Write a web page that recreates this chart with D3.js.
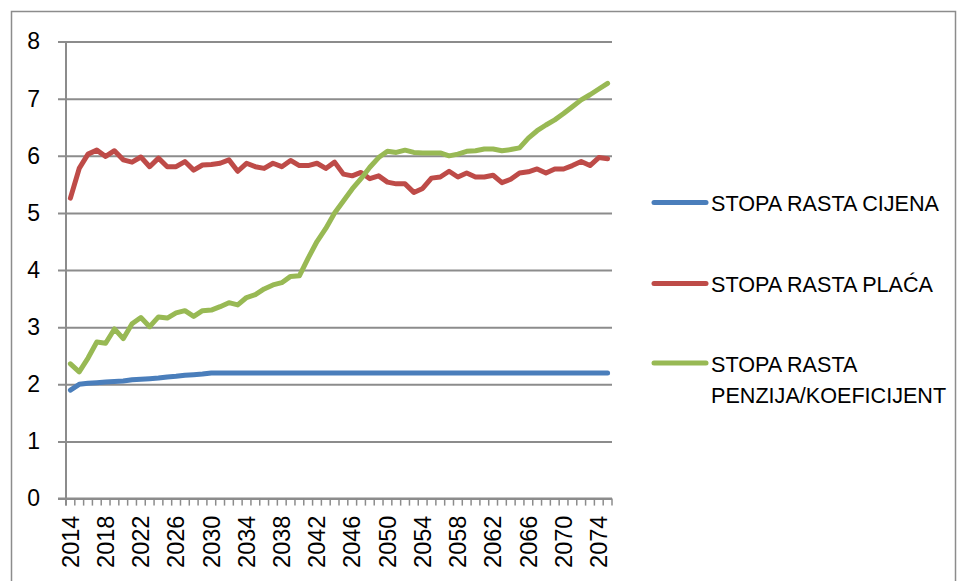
<!DOCTYPE html>
<html>
<head>
<meta charset="utf-8">
<script src="https://cdn.jsdelivr.net/npm/d3@7"></script>
<style>
  html, body { margin: 0; padding: 0; background: #fff; }
  svg { display: block; }
  text { font-family: "Liberation Sans", Arial, sans-serif; fill: #000; }
</style>
</head>
<body>
<svg id="chart" width="958" height="581"></svg>
<script>
// ---- data ----
const years = d3.range(2014, 2076);
const tickYears = [2014, 2018, 2022, 2026, 2030, 2034, 2038, 2042, 2046, 2050, 2054, 2058, 2062, 2066, 2070, 2074];
const yTicks = [0, 1, 2, 3, 4, 5, 6, 7, 8];
const seriesNames = ["STOPA RASTA CIJENA", "STOPA RASTA PLAĆA", "STOPA RASTA PENZIJA/KOEFICIJENT"];
const prices = [1.90, 2.00, 2.02, 2.03, 2.04, 2.05, 2.06, 2.08, 2.09, 2.10, 2.11, 2.13, 2.14, 2.16, 2.17, 2.18,
  2.20, 2.20, 2.20, 2.20, 2.20, 2.20, 2.20, 2.20, 2.20, 2.20, 2.20, 2.20, 2.20, 2.20, 2.20, 2.20,
  2.20, 2.20, 2.20, 2.20, 2.20, 2.20, 2.20, 2.20, 2.20, 2.20, 2.20, 2.20, 2.20, 2.20, 2.20, 2.20,
  2.20, 2.20, 2.20, 2.20, 2.20, 2.20, 2.20, 2.20, 2.20, 2.20, 2.20, 2.20, 2.20, 2.20];
const wages = [5.26, 5.78, 6.03, 6.10, 5.99, 6.09, 5.93, 5.89, 5.98, 5.81, 5.96, 5.81, 5.81, 5.90, 5.75, 5.84,
  5.85, 5.87, 5.93, 5.73, 5.87, 5.81, 5.78, 5.87, 5.81, 5.92, 5.83, 5.83, 5.87, 5.78, 5.89, 5.68,
  5.65, 5.71, 5.60, 5.65, 5.54, 5.51, 5.51, 5.36, 5.43, 5.61, 5.63, 5.73, 5.63, 5.70, 5.63, 5.63,
  5.66, 5.53, 5.59, 5.70, 5.72, 5.77, 5.70, 5.77, 5.77, 5.83, 5.90, 5.83, 5.97, 5.95];
const pensions = [2.36, 2.22, 2.46, 2.74, 2.72, 2.97, 2.80, 3.06, 3.17, 3.01, 3.18, 3.16, 3.25, 3.29, 3.19, 3.29,
  3.30, 3.36, 3.43, 3.39, 3.52, 3.57, 3.67, 3.74, 3.78, 3.89, 3.90, 4.21, 4.50, 4.73, 5.00, 5.21,
  5.42, 5.60, 5.80, 5.97, 6.08, 6.06, 6.10, 6.06, 6.05, 6.05, 6.05, 6.00, 6.03, 6.08, 6.09, 6.12,
  6.12, 6.09, 6.11, 6.14, 6.31, 6.44, 6.54, 6.63, 6.74, 6.86, 6.98, 7.07, 7.17, 7.27];
const colors = ["#4A7EBB", "#BE4B48", "#98B954"];

// ---- layout ----
const svg = d3.select("#chart");
const plot = { left: 66, right: 612, top: 41.6, bottom: 498.6 };

svg.append("rect")
  .attr("x", 11.5).attr("y", 11.5).attr("width", 944).attr("height", 620)
  .attr("fill", "none").attr("stroke", "#8c8c8c").attr("stroke-width", 1.5);

const x = d3.scaleBand().domain(years).range([plot.left, plot.right]).padding(0);
const cx = d => x(d) + x.bandwidth() / 2;
const y = d3.scaleLinear().domain([0, 8]).range([plot.bottom, plot.top]);

// gridlines + y labels
const yAxis = d3.axisLeft(y).tickValues(yTicks).tickSize(plot.right - plot.left + 8).tickPadding(18).tickFormat(d3.format("d"));
const gy = svg.append("g").attr("transform", `translate(${plot.right},0)`).call(yAxis);
gy.select(".domain").remove();
gy.selectAll(".tick line").attr("stroke", "#8c8c8c").attr("stroke-width", 2);
gy.selectAll(".tick text").attr("font-size", 23).attr("font-family", "Liberation Sans, Arial, sans-serif").attr("fill", "#000");

// y axis line
svg.append("line").attr("x1", plot.left).attr("x2", plot.left)
  .attr("y1", plot.top).attr("y2", plot.bottom + 7)
  .attr("stroke", "#8c8c8c").attr("stroke-width", 2);

// x axis line and ticks (at category boundaries)
svg.append("line").attr("x1", plot.left - 8).attr("x2", plot.right)
  .attr("y1", plot.bottom).attr("y2", plot.bottom)
  .attr("stroke", "#8c8c8c").attr("stroke-width", 2);
const bounds = years.map(d => x(d)).concat([plot.right]);
svg.append("g").selectAll("line").data(bounds).join("line")
  .attr("x1", d => d).attr("x2", d => d)
  .attr("y1", plot.bottom).attr("y2", plot.bottom + 7)
  .attr("stroke", "#8c8c8c").attr("stroke-width", 1.5);

// x labels
svg.append("g").selectAll("text").data(tickYears).join("text")
  .attr("transform", d => `translate(${cx(d)},${plot.bottom + 17}) rotate(-90)`)
  .attr("text-anchor", "end").attr("dy", "0.35em")
  .attr("font-size", 23.5)
  .text(d => d);

// lines
const line = d3.line().x((d, i) => cx(years[i])).y(d => y(d));
[prices, wages, pensions].forEach((s, k) => {
  svg.append("path").datum(s)
    .attr("d", line)
    .attr("fill", "none").attr("stroke", colors[k]).attr("stroke-width", 5)
    .attr("stroke-linejoin", "round").attr("stroke-linecap", "round");
});

// legend
const legendY = [202.5, 283.5, 363];
const legendLines = [["STOPA RASTA CIJENA"], ["STOPA RASTA PLAĆA"], ["STOPA RASTA", "PENZIJA/KOEFICIJENT"]];
legendY.forEach((ly, k) => {
  svg.append("line").attr("x1", 654).attr("x2", 706).attr("y1", ly).attr("y2", ly)
    .attr("stroke", colors[k]).attr("stroke-width", 5).attr("stroke-linecap", "round");
  legendLines[k].forEach((t, j) => {
    svg.append("text").attr("x", 711).attr("y", ly + 1 + j * 31.5).attr("dy", "0.35em")
      .attr("font-size", 21.6).text(t);
  });
});
</script>
</body>
</html>
